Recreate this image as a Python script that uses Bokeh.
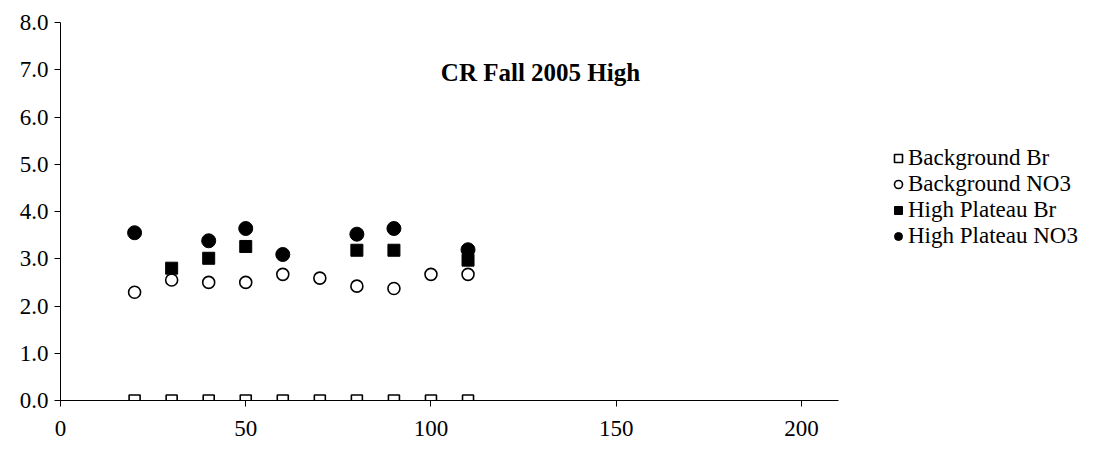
from bokeh.plotting import figure
from bokeh.models import (Range1d, FixedTicker, NumeralTickFormatter,
                          Legend, LegendItem, Label)
from bokeh.embed import file_html
from bokeh.resources import INLINE

# Depth positions sampled (x) and concentrations (y)
bg_br_x = [20, 30, 40, 50, 60, 70, 80, 90, 100, 110]
bg_br_y = [0, 0, 0, 0, 0, 0, 0, 0, 0, 0]

bg_no3_x = [20, 30, 40, 50, 60, 70, 80, 90, 100, 110]
bg_no3_y = [2.29, 2.55, 2.50, 2.50, 2.67, 2.59, 2.42, 2.37, 2.67, 2.67]

hp_br_x = [30, 40, 50, 80, 90, 110]
hp_br_y = [2.80, 3.01, 3.26, 3.18, 3.18, 2.97]

hp_no3_x = [20, 40, 50, 60, 80, 90, 110]
hp_no3_y = [3.55, 3.38, 3.64, 3.09, 3.52, 3.64, 3.19]

x_ticks = [0, 50, 100, 150, 200]
y_ticks = [0, 1, 2, 3, 4, 5, 6, 7, 8]

FONT = "Liberation Serif"

p = figure(width=1114, height=456, output_backend="svg", toolbar_location=None,
           x_range=Range1d(0, 210), y_range=Range1d(0, 8),
           min_border_left=60, min_border_right=0, min_border_top=22,
           min_border_bottom=56)
p.frame_width = 778
p.frame_height = 378
p.outline_line_color = None
p.xgrid.visible = False
p.ygrid.visible = False

for ax in (p.xaxis[0], p.yaxis[0]):
    ax.axis_line_color = "black"
    ax.axis_line_width = 1
    ax.major_tick_line_color = "black"
    ax.major_tick_in = 0
    ax.major_tick_out = 6
    ax.minor_tick_line_color = None
    ax.major_label_text_font = FONT
    ax.major_label_text_font_size = "23px"
    ax.major_label_text_color = "black"

p.xaxis.ticker = FixedTicker(ticks=x_ticks)
p.yaxis.ticker = FixedTicker(ticks=y_ticks)
p.yaxis.formatter = NumeralTickFormatter(format="0.0")
p.xaxis.major_label_standoff = 14
p.yaxis.major_label_standoff = 6

r1 = p.scatter(bg_br_x, bg_br_y, marker="square", size=11, fill_color="white",
               line_color="black", line_width=1.6)
r2 = p.scatter(bg_no3_x, bg_no3_y, marker="circle", size=12, fill_color="white",
               line_color="black", line_width=1.6)
r3 = p.scatter(hp_br_x, hp_br_y, marker="square", size=12, fill_color="black",
               line_color="black")
r4 = p.scatter(hp_no3_x, hp_no3_y, marker="circle", size=14, fill_color="black",
               line_color="black")

title = Label(x=480, y=328, x_units="screen", y_units="screen",
              text="CR Fall 2005 High", text_font=FONT, text_font_size="25px",
              text_font_style="bold", text_align="center", text_baseline="middle",
              text_color="black")
p.add_layout(title)

legend = Legend(items=[
    LegendItem(label="Background Br", renderers=[r1]),
    LegendItem(label="Background NO3", renderers=[r2]),
    LegendItem(label="High Plateau Br", renderers=[r3]),
    LegendItem(label="High Plateau NO3", renderers=[r4]),
], location=(50, 151), border_line_color=None, background_fill_alpha=0,
    label_text_font=FONT, label_text_font_size="23px", label_text_color="black",
    glyph_width=20, glyph_height=20, label_standoff=0, spacing=0,
    padding=0, margin=0)
p.add_layout(legend, "right")

open("out.html", "w").write(file_html(p, INLINE))
